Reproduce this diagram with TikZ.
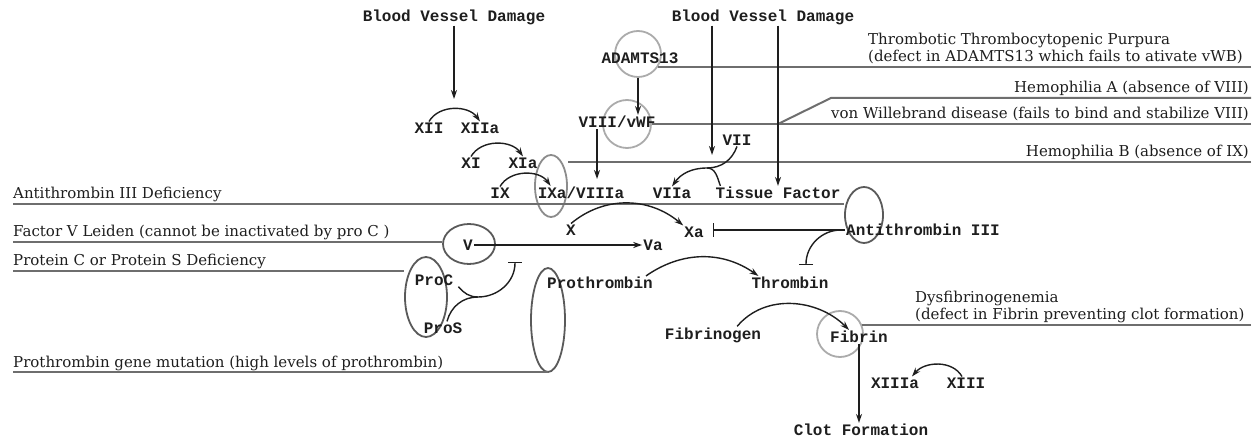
\documentclass[tikz,border=0pt]{standalone}
\usepackage{fontspec}
\usepackage{tikz}
\usetikzlibrary{positioning, arrows.meta, calc, shapes.geometric}
\newfontfamily\factorfont{Liberation Mono}
\newfontfamily\diseasefont{DejaVu Serif}
\definecolor{ink}{HTML}{1E1E1E}
\definecolor{rule}{HTML}{6E6E6E}
\definecolor{ringdark}{HTML}{5A5A5A}
\definecolor{ringmid}{HTML}{8C8C8C}
\definecolor{ringlight}{HTML}{ABABAB}
\tikzset{
  factor/.style={
    font=\factorfont\bfseries\fontsize{16}{18}\selectfont,
    inner sep=1pt,
    text=ink
  },
  disease/.style={
    font=\diseasefont\fontsize{15}{17.5}\selectfont,
    inner sep=0pt,
    text depth=5pt,
    text=ink
  },
  ring/.style={draw=ringdark, line width=1.8pt, inner sep=0pt},
  ringlt/.style={ring, draw=ringlight},
  act/.style={-{Stealth[length=9pt,width=6pt]}, line width=1.4pt, draw=ink},
  conv/.style={act},
  line/.style={line width=1.4pt, draw=ink},
  inh/.style={-{Bar[width=14pt]}, line width=1.4pt, draw=ink},
  dline/.style={draw=rule, line width=2pt}
}
\begin{document}
\begin{tikzpicture}[x=1pt, y=1pt]
  \useasboundingbox (0,0) rectangle (1253,-438);
  \coordinate (rim) at (1251,0);

  % rings round the affected factors
  \node[ringlt, circle, minimum size=46pt] (adring) at (638,-54) {};
  \node[ringlt, circle, minimum size=48pt] (vwring) at (627,-124) {};
  \node[ring, draw=ringmid, ellipse, minimum width=32pt, minimum height=62pt] (ixring) at (551,-186) {};
  \node[ring, ellipse, minimum width=38pt, minimum height=56pt] (at3ring) at (864,-215) {};
  \node[ring, ellipse, minimum width=52pt, minimum height=40pt] (vring) at (469,-244) {};
  \node[ring, ellipse, minimum width=42pt, minimum height=80pt] (pcring) at (426,-297) {};
  \node[ring, ellipse, minimum width=34pt, minimum height=104pt] (ptring) at (548,-320) {};
  \node[ringlt, circle, minimum size=46pt] (fbring) at (840,-334) {};

  % factors
  \node[factor] (bvdl) at (454,-17) {Blood Vessel Damage};
  \node[factor] (bvdr) at (763,-17) {Blood Vessel Damage};
  \node[factor] (adamts) at (640,-58) {ADAMTS13};
  \node[factor] (vwf) at (617,-122) {VIII/vWF};
  \node[factor] (xii) at (429,-128) {XII};
  \node[factor] (xiia) at (480,-128) {XIIa};
  \node[factor] (vii) at (737,-140) {VII};
  \node[factor] (xi) at (471,-163) {XI};
  \node[factor] (xia) at (523,-163) {XIa};
  \node[factor] (ix) at (500,-193) {IX};
  \node[factor] (ixa) at (581,-193) {IXa/VIIIa};
  \node[factor] (viia) at (672,-193) {VIIa};
  \node[factor] (tf) at (778,-193) {Tissue Factor};
  \node[factor] (x) at (571,-230) {X};
  \node[factor] (xa) at (694,-232) {Xa};
  \node[factor] (at3) at (923,-230) {Antithrombin III};
  \node[factor] (v) at (468,-245) {V};
  \node[factor] (va) at (653,-245) {Va};
  \node[factor] (proc) at (434,-280) {ProC};
  \node[factor] (pros) at (443,-328) {ProS};
  \node[factor] (prothr) at (600,-283) {Prothrombin};
  \node[factor] (thr) at (790,-283) {Thrombin};
  \node[factor] (fibrinogen) at (713,-335) {Fibrinogen};
  \node[factor] (fibrin) at (859,-337) {Fibrin};
  \node[factor] (xiiia) at (895,-383) {XIIIa};
  \node[factor] (xiii) at (966,-383) {XIII};
  \node[factor] (clot) at (861,-430) {Clot Formation};

  % disorders
  \node[disease, align=left, anchor=south west] (ttp) at (868,-67) {Thrombotic Thrombocytopenic Purpura\\(defect in ADAMTS13 which fails to ativate vWB)};
  \node[disease, anchor=south east] (hema) at (1249,-98) {Hemophilia A (absence of VIII)};
  \node[disease, anchor=south east] (vwd) at (1249,-124) {von Willebrand disease (fails to bind and stabilize VIII)};
  \node[disease, anchor=south east] (hemb) at (1249,-162) {Hemophilia B (absence of IX)};
  \node[disease, anchor=base west] (at3d) at (13,-199) {Antithrombin III Deficiency};
  \node[disease, anchor=base west] (fvl) at (13,-237) {Factor V Leiden (cannot be inactivated by pro C )};
  \node[disease, anchor=base west] (pcs) at (13,-266) {Protein C or Protein S Deficiency};
  \node[disease, anchor=base west] (ptg) at (13,-367) {Prothrombin gene mutation (high levels of prothrombin)};
  \node[disease, align=left, anchor=south west] (dys) at (915,-325) {Dysfibrinogenemia\\(defect in Fibrin preventing clot formation)};

  \coordinate (xiitop) at (454,-99);
  \coordinate (vwfix) at (597,-179);
  \coordinate (viitop) at (712,-155);
  \coordinate (viij) at (707,-168);
  \coordinate (pcj) at (478,-297);
  \coordinate (vbar) at (515,-262);
  \coordinate (xabar) at (713,-229);
  \coordinate (thrbar) at (806,-265);
  \coordinate (vwdknee) at (778,-124);

  % disorder lines
  \draw[dline] (ttp.south -| rim) -- (ttp.south -| adring.-34);
  \draw[dline] (hema.south -| rim) -- (hema.south -| vwd.west) -- (vwdknee);
  \draw[dline] (vwd.south -| rim) -- (vwd.south -| vwring.east);
  \draw[dline] (hemb.south -| rim) -- (hemb.south -| ixring.east);
  \draw[dline] (at3d.south west) -- (at3d.south -| at3ring.west);
  \draw[dline] (fvl.south west) -- (fvl.south -| vring.west);
  \draw[dline] (pcs.south west) -- (pcs.south -| pcring.west);
  \draw[dline] (ptg.south west) -- (ptg.south -| ptring.south);
  \draw[dline] (dys.south -| rim) -- (dys.south -| fbring.20);

  % cascade
  \draw[act] (bvdl.south) -- (xiitop);
  \draw[conv] (xii.north) to[out=60,in=125] (xiia.north);
  \draw[conv] (xi.north) to[out=60,in=125] (xia.north);
  \draw[conv] (ix.north) to[out=60,in=125] ([xshift=14pt]ixa.north west);
  \draw[act] (adring.south) -- (adring.south |- vwf.north);
  \draw[act] (vwf.south -| vwfix) -- (vwfix);
  \draw[act] (bvdr.south -| viitop) -- (viitop);
  \draw[act] (bvdr.south -| tf.north) -- (tf.north);
  \draw[line] (vii.south) to[out=-110,in=0] (viij);
  \draw[conv] ([xshift=6pt]tf.north west) to[out=110,in=0] (viij) to[out=180,in=55] (viia.north);
  \draw[conv] (x.north) to[out=40,in=140] (xa.north west);
  \draw[act] (v) -- (va);
  \draw[line] ([xshift=4pt]proc.south east) to[out=-50,in=180] (pcj);
  \draw[inh] ([xshift=4pt]pros.north) to[out=75,in=180] (pcj) to[out=0,in=-90] (vbar);
  \draw[inh] (at3.west) -- (at3.west -| xabar);
  \draw[inh] ([xshift=-4pt]at3.west) to[out=180,in=90] (thrbar);
  \draw[conv] ([xshift=-8pt]prothr.north east) to[out=35,in=145] ([xshift=8pt]thr.north west);
  \draw[conv] ([xshift=-25pt]fibrinogen.north east) to[out=50,in=135] ([xshift=20pt]fibrin.north west);
  \draw[conv] ([xshift=-4pt]xiii.north) to[out=120,in=50] ([xshift=17pt]xiiia.north);
  \draw[act] (fibrin.south) -- (fibrin.south |- clot.north);
\end{tikzpicture}
\end{document}
